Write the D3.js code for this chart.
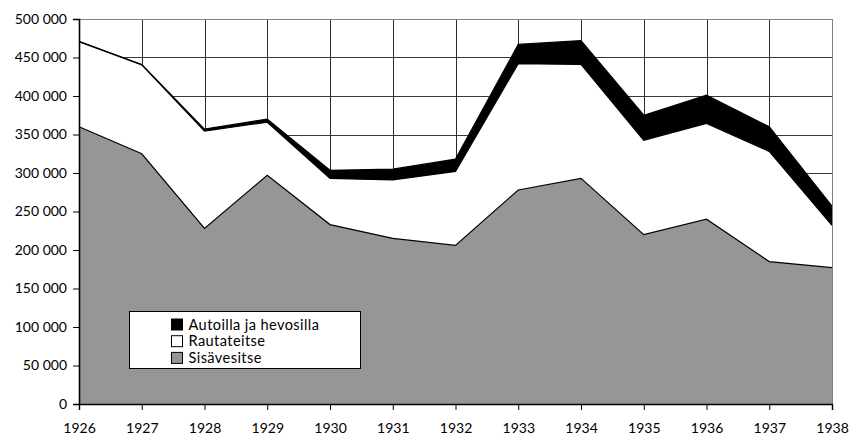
<!DOCTYPE html>
<html>
<head>
<meta charset="utf-8">
<script src="https://cdn.jsdelivr.net/npm/d3@7/dist/d3.min.js"></script>
<style>
  html, body { margin: 0; padding: 0; background: #fff; }
  svg { display: block; }
  text { font-family: Lato, "Open Sans", sans-serif; fill: #000; }
</style>
</head>
<body>
<svg id="chart" width="851" height="438"></svg>
<script>
// Freight volumes by mode of transport, 1926–1938
const years = [1926, 1927, 1928, 1929, 1930, 1931, 1932, 1933, 1934, 1935, 1936, 1937, 1938];
const sisavesitse = [360000, 325000, 228000, 297000, 233000, 215000, 206000, 278000, 293000, 220000, 240000, 185000, 177000];
const rautateitse = [110500, 115500, 126500, 69000, 60000, 76000, 96000, 164000, 148000, 122500, 124500, 143000, 55000];
const autoilla = [500, 500, 2500, 4000, 10500, 14000, 16000, 25000, 31000, 32500, 36500, 32000, 25000];
const yTicks = [0, 50000, 100000, 150000, 200000, 250000, 300000, 350000, 400000, 450000, 500000];

const seriesKeys = ["sis", "rail", "auto"];
const seriesNames = { auto: "Autoilla ja hevosilla", rail: "Rautateitse", sis: "Sisävesitse" };
const seriesFill = { sis: "#969696", rail: "#ffffff", auto: "#000000" };

const rows = years.map((y, i) => ({ year: y, sis: sisavesitse[i], rail: rautateitse[i], auto: autoilla[i] }));

const margin = { left: 79, right: 19, top: 19, bottom: 34 };
const W = 851, H = 438;
const svg = d3.select("#chart");

const x = d3.scaleLinear().domain([1926, 1938]).range([margin.left, W - margin.right]);
const y = d3.scaleLinear().domain([0, 500000]).range([H - margin.bottom, margin.top]);

const fmt = v => d3.format(",")(v).replace(/,/g, " ");

// grid
const grid = svg.append("g");
grid.selectAll("line.h").data(yTicks.slice(1, -1)).join("line")
  .attr("x1", x(1926)).attr("x2", x(1938))
  .attr("y1", d => Math.round(y(d)) + 0.5).attr("y2", d => Math.round(y(d)) + 0.5)
  .attr("stroke", "#3a3a3a").attr("stroke-width", 1);
grid.selectAll("line.v").data(years.slice(1, -1)).join("line")
  .attr("x1", d => Math.round(x(d)) + 0.5).attr("x2", d => Math.round(x(d)) + 0.5)
  .attr("y1", y(500000)).attr("y2", y(0))
  .attr("stroke", "#2a2a2a").attr("stroke-width", 1);

// stacked areas
const stacked = d3.stack().keys(seriesKeys)(rows);
const area = d3.area()
  .x(d => x(d.data.year))
  .y0(d => y(d[0]))
  .y1(d => y(d[1]));
const topLine = d3.line().x(d => x(d.data.year)).y(d => y(d[1]));

svg.append("g").selectAll("path.area").data(stacked).join("path")
  .attr("d", area)
  .attr("fill", d => seriesFill[d.key])
  .attr("stroke", "none");
svg.append("g").selectAll("path.top").data(stacked).join("path")
  .attr("d", topLine)
  .attr("fill", "none")
  .attr("stroke", "#000")
  .attr("stroke-width", 1.2);

// plot frame: top and right in grey
svg.append("line")
  .attr("x1", x(1926)).attr("x2", x(1938) + 0.5)
  .attr("y1", Math.round(y(500000)) + 0.5).attr("y2", Math.round(y(500000)) + 0.5)
  .attr("stroke", "#808080");
svg.append("line")
  .attr("x1", Math.round(x(1938)) + 0.5).attr("x2", Math.round(x(1938)) + 0.5)
  .attr("y1", y(500000)).attr("y2", y(0))
  .attr("stroke", "#808080");

// y axis
const yAxis = d3.axisLeft(y).tickValues(yTicks).tickSize(6).tickPadding(6).tickFormat(fmt);
const gy = svg.append("g").attr("transform", `translate(${x(1926)},0)`).call(yAxis);
gy.select(".domain").attr("stroke", "#000").attr("stroke-width", 1.6);
gy.selectAll(".tick line").attr("stroke", "#000");
gy.selectAll("text").attr("font-size", 14).attr("fill", "#000");

// x axis
const xAxis = d3.axisBottom(x).tickValues(years).tickSize(6).tickPadding(13).tickFormat(d3.format("d"));
const gx = svg.append("g").attr("transform", `translate(0,${y(0)})`).call(xAxis);
gx.select(".domain").attr("stroke", "#000").attr("stroke-width", 1.4);
gx.selectAll(".tick line").attr("stroke", "#000");
gx.selectAll("text").attr("font-size", 14).attr("fill", "#000");

// legend
const lg = svg.append("g").attr("transform", "translate(129.5,311.5)");
lg.append("rect").attr("width", 231).attr("height", 57)
  .attr("fill", "#fff").attr("stroke", "#000").attr("stroke-width", 1);
const legendOrder = ["auto", "rail", "sis"];
const item = lg.selectAll("g.item").data(legendOrder).join("g")
  .attr("transform", (d, i) => `translate(42,${7.5 + i * 16.7})`);
item.append("rect").attr("width", 11).attr("height", 11)
  .attr("fill", d => seriesFill[d]).attr("stroke", "#000").attr("stroke-width", 1);
item.append("text").attr("x", 17).attr("y", 5.5).attr("dy", "0.36em")
  .attr("font-size", 14.6).attr("letter-spacing", 0.4).text(d => seriesNames[d]);
</script>
</body>
</html>
